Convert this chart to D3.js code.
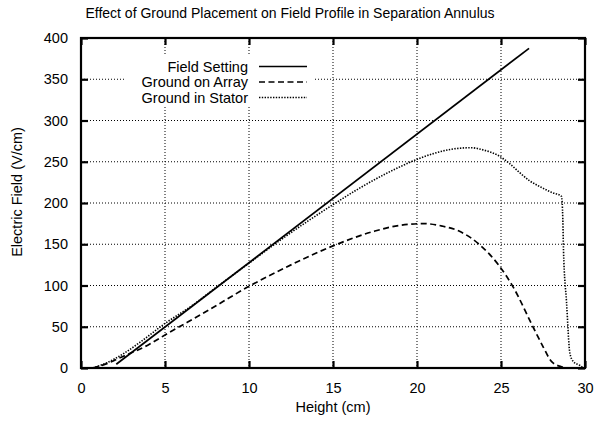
<!DOCTYPE html>
<html>
<head>
<meta charset="utf-8">
<script src="https://cdn.jsdelivr.net/npm/d3@7"></script>
<style>
  body { margin: 0; background: #fff; }
  svg { display: block; font-family: "Liberation Sans", Arial, Helvetica, sans-serif; }
</style>
</head>
<body>
<div class="chart"></div>
<script>
// data: [height cm, field V/cm]
const fieldSetting = [[2.1, 4.5], [26.67, 387.5]];

const groundOnArray = [
  [0.7, 0], [1.5, 5], [2.5, 14], [4, 28], [5, 40], [7.5, 69], [10, 99],
  [12.5, 125], [15, 148], [17.5, 166], [19, 173], [20.4, 175], [21.5, 172],
  [22.5, 166], [23.75, 149], [24.85, 125], [25.7, 99], [26.9, 50], [27.5, 26],
  [28, 8], [28.6, 1.5], [29, 0]
];

const groundInStator = [
  [0.7, 0], [1.5, 6], [2.5, 17], [3.5, 31], [5, 54], [6.5, 74], [8, 97],
  [10, 127], [12, 157], [13.5, 178], [15, 198], [16.5, 217], [18, 234],
  [19, 244], [20, 253], [21, 260], [22, 265], [23.2, 267], [24, 264],
  [24.8, 258], [25.5, 248], [26.1, 237], [26.7, 227], [27.3, 220], [28, 213],
  [28.6, 208], [28.68, 180], [28.72, 143], [28.9, 80], [29.1, 18], [29.3, 8],
  [29.7, 3], [29.9, 0]
];

const xTicks = [0, 5, 10, 15, 20, 25, 30];
const yTicks = [0, 50, 100, 150, 200, 250, 300, 350, 400];

const seriesNames = ["Field Setting", "Ground on Array", "Ground in Stator"];

const W = 602, H = 421;
const margin = { top: 38, right: 17, bottom: 53, left: 81 };
const width = W - margin.left - margin.right;
const height = H - margin.top - margin.bottom;

const svg = d3.select(".chart").append("svg")
    .attr("width", W)
    .attr("height", H);

const g = svg.append("g")
    .attr("transform", `translate(${margin.left},${margin.top})`);

const x = d3.scaleLinear().domain([0, 30]).range([0, width]);
const y = d3.scaleLinear().domain([0, 400]).range([height, 0]);

// title
svg.append("text")
    .attr("x", 290)
    .attr("y", 18)
    .attr("text-anchor", "middle")
    .style("font-size", "14px")
    .text("Effect of Ground Placement on Field Profile in Separation Annulus");

// grid (dotted)
g.append("g")
    .selectAll("line")
    .data(xTicks.slice(1, -1))
    .enter().append("line")
    .attr("x1", d => x(d)).attr("x2", d => x(d))
    .attr("y1", 0).attr("y2", height)
    .attr("stroke", "#000")
    .attr("stroke-width", 1)
    .attr("stroke-dasharray", "1,2");

g.append("g")
    .selectAll("line")
    .data(yTicks.slice(1, -1))
    .enter().append("line")
    .attr("x1", 0).attr("x2", width)
    .attr("y1", d => y(d)).attr("y2", d => y(d))
    .attr("stroke", "#000")
    .attr("stroke-width", 1)
    .attr("stroke-dasharray", "1,2");

// legend box masks the grid
const legend = g.append("g");
legend.append("rect")
    .attr("x", 125 - margin.left)
    .attr("y", 56 - margin.top)
    .attr("width", 188)
    .attr("height", 51)
    .attr("fill", "#fff");

// curves
const line = d3.line()
    .x(d => x(d[0]))
    .y(d => y(d[1]))
    .curve(d3.curveMonotoneX);

const styles = [
  { data: fieldSetting, dash: null, w: 1.7 },
  { data: groundOnArray, dash: "6,3.5", w: 1.7 },
  { data: groundInStator, dash: "1.4,1.4", w: 1.6 }
];

styles.forEach(s => {
  g.append("path")
      .datum(s.data)
      .attr("d", line)
      .attr("fill", "none")
      .attr("stroke", "#000")
      .attr("stroke-width", s.w)
      .attr("stroke-dasharray", s.dash);
});

// legend entries
seriesNames.forEach((name, i) => {
  const by = 71.5 + i * 15.5 - margin.top;
  legend.append("text")
      .attr("x", 248 - margin.left)
      .attr("y", by)
      .attr("text-anchor", "end")
      .style("font-size", "14.5px")
      .text(name);
  legend.append("line")
      .attr("x1", 259 - margin.left).attr("x2", 307 - margin.left)
      .attr("y1", by - 5).attr("y2", by - 5)
      .attr("stroke", "#000")
      .attr("stroke-width", styles[i].w)
      .attr("stroke-dasharray", styles[i].dash);
});

// axes with inward ticks on all four sides
const tickLen = 7;
g.append("g")
    .attr("transform", `translate(0,${height})`)
    .call(d3.axisBottom(x).tickValues(xTicks).tickSize(-tickLen).tickPadding(tickLen + 8))
    .call(a => a.select(".domain").remove());

g.append("g")
    .call(d3.axisLeft(y).tickValues(yTicks).tickSize(-tickLen).tickPadding(tickLen + 6))
    .call(a => a.select(".domain").remove());

g.append("g")
    .call(d3.axisTop(x).tickValues(xTicks).tickSize(-tickLen).tickFormat(""))
    .call(a => a.select(".domain").remove());

g.append("g")
    .attr("transform", `translate(${width},0)`)
    .call(d3.axisRight(y).tickValues(yTicks).tickSize(-tickLen).tickFormat(""))
    .call(a => a.select(".domain").remove());

g.selectAll(".tick line").attr("stroke", "#000").attr("stroke-width", 2.2);
g.selectAll(".tick text").style("font-size", "14.5px").attr("fill", "#000");

// frame
g.append("rect")
    .attr("width", width)
    .attr("height", height)
    .attr("fill", "none")
    .attr("stroke", "#000")
    .attr("stroke-width", 2.2);

// axis labels
svg.append("text")
    .attr("x", 333)
    .attr("y", 412)
    .attr("text-anchor", "middle")
    .style("font-size", "14.5px")
    .text("Height (cm)");

svg.append("text")
    .attr("transform", "rotate(-90)")
    .attr("x", -192)
    .attr("y", 22)
    .attr("text-anchor", "middle")
    .style("font-size", "14.5px")
    .text("Electric Field (V/cm)");
</script>
</body>
</html>
